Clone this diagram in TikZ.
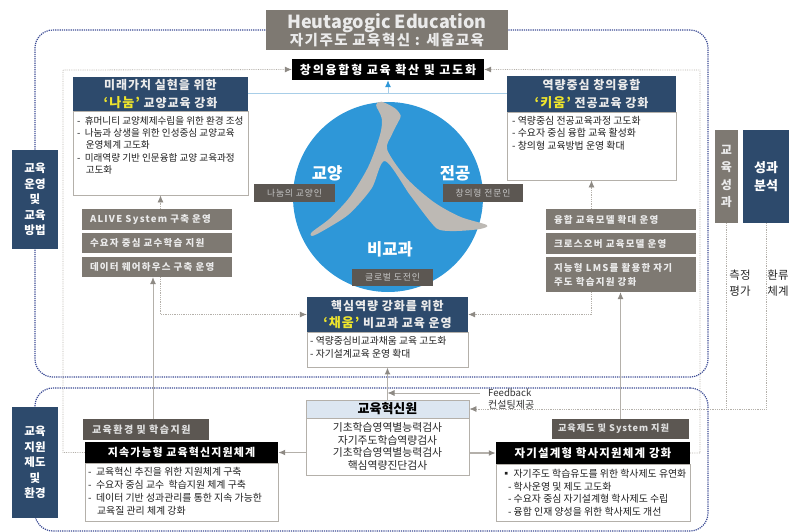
\documentclass[tikz,border=0pt]{standalone}
\usepackage{fontspec}
\usetikzlibrary{arrows.meta}
\setmainfont{Noto Sans CJK KR}
\newfontfamily\wideA[LetterSpace=8]{Noto Sans CJK KR}
\newfontfamily\wideB[LetterSpace=10]{Noto Sans CJK KR}
\newfontfamily\wideC[LetterSpace=13]{Noto Sans CJK KR}
\newfontfamily\wideD[LetterSpace=15]{Noto Sans CJK KR}
\definecolor{navybox}{HTML}{2D4A6C}
\definecolor{graybox}{HTML}{7E7972}
\definecolor{darkbox}{HTML}{5C5752}
\definecolor{roundline}{HTML}{3A4A94}
\definecolor{linkline}{HTML}{B4B0AA}
\definecolor{linktip}{HTML}{8E8A84}
\definecolor{skyline}{HTML}{A8CEE8}
\definecolor{paleblue}{HTML}{DCE6F1}
\definecolor{bigcircle}{HTML}{2E97D8}
\definecolor{strokegray}{HTML}{BDB9B4}
\definecolor{yellowtxt}{HTML}{EFE52C}
\tikzset{
  plainbox/.style={inner sep=0pt, align=center},
  navybar/.style={plainbox, fill=navybox, text=white, font=\fontsize{11.5}{15.5}\selectfont\bfseries},
  headtxt/.style={plainbox, fill=navybox, text=white!92!black, font=\wideA\fontsize{12}{17.5}\selectfont\bfseries},
  graybar/.style={plainbox, fill=graybox, text=white!92!black, text width=134pt, align=left, font=\wideC\fontsize{9.5}{14}\selectfont\bfseries},
  tagbar/.style={plainbox, fill=darkbox, text=white!78!black, font=\wideB\fontsize{8.8}{10}\selectfont},
  blackbar/.style={plainbox, fill=black, text=white, font=\wideB\fontsize{11}{13}\selectfont\bfseries},
  frame/.style={plainbox, draw=linkline, fill=white, line width=0.8pt},
  bodytxt/.style={inner sep=0pt, align=left, anchor=north west, text=black!88, font=\fontsize{9.6}{12.4}\selectfont},
  circtxt/.style={inner sep=0pt, text=white, font=\fontsize{16.5}{18}\selectfont\bfseries},
  roundframe/.style={draw=roundline, line width=1.2pt, densely dotted, rounded corners=18pt, inner sep=0pt},
  tipped/.style={-{Latex[length=7pt,width=6pt,color=linktip]}},
  link/.style={draw=linkline, line width=0.8pt, densely dotted, tipped},
  thick link/.style={draw=linkline, line width=1.4pt, tipped},
  plain link/.style={draw=linkline, line width=0.8pt, tipped}
}
\newcommand{\hilite}[1]{\textcolor{yellowtxt}{\fontsize{13}{17.5}\selectfont #1}}
\begin{document}
\begin{tikzpicture}[x=1pt,y=-1pt]
\useasboundingbox (0,0) rectangle (792,532);
% dotted frames
\node[roundframe, minimum width=673pt, minimum height=347pt] (upperround) at (371.5,203.5){};
\node[roundframe, minimum width=673pt, minimum height=143pt] (lowerround) at (371.5,459.5){};
% title
\node[plainbox, fill=graybox, text=white!92!black, minimum width=242pt, minimum height=40pt, font=\wideB\fontsize{14.5}{17.5}\selectfont\bfseries] (title) at (387,30){{\normalfont\bfseries\fontsize{18}{20}\selectfont Heutagogic Education}\\자기주도 교육혁신 : 세움교육};
\node[blackbar, minimum width=192pt, minimum height=21pt, font=\wideD\fontsize{12}{13}\selectfont\bfseries] (topbar) at (388,69.5){창의융합형 교육 확산 및 고도화};
% circle
\node[circle, fill=bigcircle, inner sep=0pt, minimum size=190pt] (core) at (388,197){};
\fill[strokegray] plot[smooth cycle, tension=0.5] coordinates {(376,105) (381.7,101.7) (395,108.3) (400.7,115.7) (398.3,121.7) (391.7,135) (387.3,150) (406.7,178.3) (433.3,201.7) (460,216.7) (486.7,225) (480,229) (456.7,231) (440,230) (431.7,223.3) (410,195) (385,161) (371.7,188.3) (350,213.3) (330,226.7) (313.3,235.7) (311.7,232.3) (330,218.3) (350,196.7) (368.3,166.7) (380,135) (381.7,118.3)};
\node[circtxt] (liberal) at (327,173){교양};
\node[circtxt] (major) at (455,173){전공};
\node[circtxt] (nonmajor) at (390,249){비교과};
\node[tagbar, minimum width=81pt, minimum height=18pt] (liberaltag) at (294.5,193){나눔의 교양인};
\node[tagbar, minimum width=80pt, minimum height=18pt] (majortag) at (483,193){창의형 전문인};
\node[tagbar, minimum width=81pt, minimum height=17pt] (globaltag) at (392.5,277.5){글로벌 도전인};
% side boxes
\node[navybar, minimum width=46pt, minimum height=99pt] (operate) at (35,199.5){교육\\운영\\및\\교육\\방법};
\node[navybar, minimum width=46pt, minimum height=111pt] (support) at (35,462.5){교육\\지원\\제도\\및\\환경};
\node[plainbox, fill=graybox, text=white!92!black, minimum width=23pt, minimum height=93pt, font=\fontsize{12}{17.5}\selectfont\bfseries] (evalres) at (726.5,176.5){교\\육\\성\\과};
\node[navybar, minimum width=46pt, minimum height=93pt, font=\fontsize{13}{18}\selectfont\bfseries] (analysis) at (766,176.5){성과\\분석};
\node[plainbox, text=black!85, font=\fontsize{11.5}{16}\selectfont] (measure) at (740,283.5){측정\\평가};
\node[plainbox, text=black!85, font=\fontsize{11.5}{16}\selectfont] (feedbk) at (778,283.5){환류\\체계};
% sharing
\node[headtxt, minimum width=175pt, minimum height=34pt] (nanumhead) at (160.5,94){미래가치 실현을 위한\\\hilite{‘나눔’} 교양교육 강화};
\node[frame, minimum width=175pt, minimum height=84pt] (nanumbody) at (160.5,153){};
\node[bodytxt] (nanumtxt) at (77,116){-\ \ 휴머니티 교양체제수립을 위한 환경 조성\\-\ \ 나눔과 상생을 위한 인성중심 교양교육\\\ \ \ \ 운영체계 고도화\\-\ \ 미래역량 기반 인문융합 교양 교육과정\\\ \ \ \ 고도화};
\node[graybar, minimum width=150pt, minimum height=21pt] (alivebox) at (157,219.5){ALIVE System 구축 운영};
\node[graybar, minimum width=150pt, minimum height=20pt] (teachbox) at (157,243){수요자 중심 교수학습 지원};
\node[graybar, minimum width=150pt, minimum height=20pt] (databox) at (157,267){데이터 웨어하우스 구축 운영};
% major
\node[headtxt, minimum width=169pt, minimum height=36pt] (kiumhead) at (591.5,94){역량중심 창의융합\\\hilite{‘키움’} 전공교육 강화};
\node[frame, minimum width=169pt, minimum height=68pt] (kiumbody) at (591.5,146){};
\node[bodytxt, font=\fontsize{9.9}{12.4}\selectfont] (kiumtxt) at (512,116){-\ 역량중심 전공교육과정 고도화\\-\ 수요자 중심 융합 교육 활성화\\-\ 창의형 교육방법 운영 확대};
\node[graybar, minimum width=150pt, minimum height=21pt] (fusionbox) at (621,219.5){융합 교육모델 확대 운영};
\node[graybar, minimum width=150pt, minimum height=21pt] (crossbox) at (621,243.5){크로스오버 교육모델 운영};
\node[graybar, minimum width=150pt, minimum height=35pt] (lmsbox) at (621,274.5){지능형 LMS를 활용한 자기\\주도 학습지원 강화};
% non major
\node[headtxt, minimum width=161pt, minimum height=35pt] (chaeumhead) at (387.5,314.5){핵심역량 강화를 위한\\\hilite{‘채움’} 비교과 교육 운영};
\node[frame, minimum width=161pt, minimum height=35pt] (chaeumbody) at (387.5,349.5){};
\node[bodytxt, font=\fontsize{9.8}{13.5}\selectfont] (chaeumtxt) at (310,336){- 역량중심비교과채움 교육 고도화\\- 자기설계교육 운영 확대};
% innovation center
\node[plainbox, draw=linkline, fill=paleblue, text=black, line width=0.8pt, minimum width=163pt, minimum height=18pt, font=\fontsize{13}{14}\selectfont\bfseries] (innovhead) at (387.5,409){교육혁신원};
\node[frame, minimum width=163pt, minimum height=57pt, text=black!85, font=\fontsize{10.8}{12.4}\selectfont] (innovbody) at (387.5,446.5){기초학습영역별능력검사\\자기주도학습역량검사\\기초학습영역별능력검사\\핵심역량진단검사};
\node[plainbox, fill=darkbox, text=white!88!black, text width=108pt, align=left, minimum width=126pt, minimum height=21pt, font=\wideD\fontsize{10}{11}\selectfont\bfseries] (envbox) at (146,429.5){교육환경 및 학습지원};
\node[blackbar, minimum width=193pt, minimum height=21pt] (sustainhead) at (181.5,452.5){지속가능형 교육혁신지원체계};
\node[frame, minimum width=193pt, minimum height=58pt] (sustainbody) at (181.5,492){};
\node[bodytxt, font=\fontsize{9.9}{12.7}\selectfont] (sustaintxt) at (88,467.5){-\ \ 교육혁신 추진을 위한 지원체계 구축\\-\ \ 수요자 중심 교수\ \ 학습지원 체계 구축\\-\ \ 데이터 기반 성과관리를 통한 지속 가능한\\\ \ \ \ 교육질 관리 체계 강화};
\node[plainbox, fill=darkbox, text=white!88!black, text width=125pt, align=left, minimum width=137pt, minimum height=20pt, font=\wideB\fontsize{9.2}{11}\selectfont\bfseries] (sysbox) at (620.5,429){교육제도 및 System 지원};
\node[blackbar, minimum width=194pt, minimum height=22pt, font=\wideB\fontsize{11.5}{13}\selectfont\bfseries] (selfhead) at (593,453){자기설계형 학사지원체계 강화};
\node[frame, minimum width=194pt, minimum height=57pt] (selfbody) at (593,492.5){};
\node[bodytxt, font=\fontsize{9.9}{12.6}\selectfont] (selftxt) at (499,469){\ ▪\ 자기주도 학습유도를 위한 학사제도 유연화\\\ \ \ \ -\ 학사운영 및 제도 고도화\\\ \ \ \ -\ 수요자 중심 자기설계형 학사제도 수립\\\ \ \ \ -\ 융합 인재 양성을 위한 학사제도 개선};
% feedback text
\node[inner sep=0pt, anchor=west, text=black!80, font=\fontsize{9.6}{11}\selectfont] (fbword) at (488,393){Feedback};
\node[inner sep=0pt, anchor=west, text=black!80, font=\fontsize{10}{11}\selectfont] (fbteam) at (488,405){컨설팅제공};
% links
\coordinate (leftrail) at (63,70);
\coordinate (rightrail) at (700,70);
\coordinate (fbstart) at (480,393);
\draw[link] (sustainhead.west) -| (leftrail) -- (topbar.west);
\draw[link] (selfhead.east) -| (rightrail) -- (topbar.east);
\draw[draw=skyline, line width=1pt] (nanumhead.east) -- (kiumhead.west);
\draw[draw=skyline, line width=1pt, -{Latex[length=7pt,width=6pt,color=bigcircle]}] (nanumhead.east -| topbar.south) -- (topbar.south);
\draw[link] (nanumbody.south |- alivebox.north) -- (nanumbody.south);
\draw[link] (kiumbody.south |- fusionbox.north) -- (kiumbody.south);
\draw[link] (nanumbody.south |- databox.south) |- (chaeumhead.west);
\draw[link] (kiumbody.south |- lmsbox.south) |- (chaeumhead.east);
\draw[plain link] ([xshift=7]envbox.north) -- ([xshift=7]envbox.north |- databox.south);
\draw[plain link] (sysbox.north) -- (sysbox.north |- lmsbox.south);
\draw[thick link] (innovhead.north) -- (chaeumbody.south);
\draw[plain link] (fbstart) -- (innovhead.north |- fbstart);
\draw[thick link] (sustainhead.east -| innovbody.west) -- (sustainhead.east);
\draw[thick link] (selfhead.west -| innovbody.east) -- (selfhead.west);
\draw[link] (analysis.south) |- (innovhead.east);
\draw[draw=linkline, line width=0.8pt, densely dotted] (evalres.south) -- (evalres.south |- innovhead.east);
\end{tikzpicture}
\end{document}
